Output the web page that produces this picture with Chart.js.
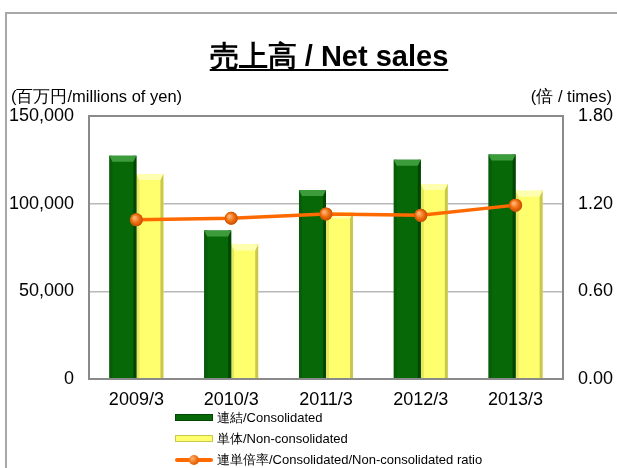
<!DOCTYPE html>
<html><head><meta charset="utf-8">
<script src="https://cdn.jsdelivr.net/npm/chart.js@4/dist/chart.umd.min.js"></script>
<style>
html,body{margin:0;padding:0;background:#fff;}
#wrap{position:relative;width:617px;height:468px;overflow:hidden;background:#fff;font-family:"Liberation Sans",sans-serif;}
#frame{position:absolute;left:5px;top:12px;width:640px;height:480px;border-left:2px solid #a8a8a8;border-top:2px solid #a8a8a8;}
#c{position:absolute;left:0;top:0;}
#title{position:absolute;left:0;width:658px;top:37px;text-align:center;font-size:29px;font-weight:bold;text-decoration:underline;text-underline-offset:3px;text-decoration-thickness:2px;color:#000;}
.unit{position:absolute;top:86px;font-size:16.5px;color:#000;}
#legend{position:absolute;left:175px;top:407px;font-size:13px;color:#000;}
.li{height:21px;display:flex;align-items:center;}
.sw{width:38px;height:18px;margin-right:4px;position:relative;}
</style></head>
<body><div id="wrap">
<div id="frame"></div>
<canvas id="c" width="617" height="468"></canvas>
<div id="title">売上高 / Net sales</div>
<div class="unit" style="left:11px;">(百万円/millions of yen)</div>
<div class="unit" style="right:5px;">(倍 / times)</div>
<div id="legend"></div>
</div>
<script>
const categories = ["2009/3","2010/3","2011/3","2012/3","2013/3"];
const consolidated = [127300, 84700, 107800, 125000, 128000];
const nonConsolidated = [116900, 76700, 95000, 111200, 107400];
const ratio = [1.09, 1.10, 1.13, 1.12, 1.19];
const leftTicks = [0, 50000, 100000, 150000];
const rightTicks = [0, 0.6, 1.2, 1.8];
const seriesLabels = ["連結/Consolidated","単体/Non-consolidated","連単倍率/Consolidated/Non-consolidated ratio"];

const tickFont = {family:'"Liberation Sans",sans-serif', size:18};

const bevelPlugin = {
  id:'bevel',
  afterDatasetDraw(chart, args){
    const ds = chart.data.datasets[args.index];
    if (ds.type !== 'bar') return;
    const ctx = chart.ctx;
    const st = ds.bevel;
    args.meta.data.forEach(el=>{
      const w = el.width, l = el.x - w/2, r = el.x + w/2, t = el.y, b = el.base;
      const bh = 6, side = 3;
      ctx.save();
      ctx.fillStyle = st.left; ctx.fillRect(l, t, side, b-t);
      ctx.fillStyle = st.right; ctx.fillRect(r-side, t, side, b-t);
      ctx.beginPath(); ctx.moveTo(l,t); ctx.lineTo(r,t); ctx.lineTo(r-side,t+bh); ctx.lineTo(l+side,t+bh); ctx.closePath();
      ctx.fillStyle = st.top; ctx.fill();
      ctx.restore();
    });
  }
};
const framePlugin = {
  id:'frameBox',
  afterDraw(chart){
    const a = chart.chartArea, ctx = chart.ctx;
    ctx.save(); ctx.strokeStyle = '#8a8a8a'; ctx.lineWidth = 2;
    ctx.strokeRect(a.left, a.top, a.right-a.left, a.bottom-a.top);
    ctx.restore();
  }
};
const pointPlugin = {
  id:'sphere',
  afterDatasetsDraw(chart){
    const ctx = chart.ctx;
    chart.data.datasets.forEach((ds,i)=>{
      if (ds.type !== 'line') return;
      chart.getDatasetMeta(i).data.forEach(p=>{
        const g = ctx.createRadialGradient(p.x-2,p.y-2,1,p.x,p.y,7);
        g.addColorStop(0,'#ffb070'); g.addColorStop(0.5,'#f07010'); g.addColorStop(1,'#c04800');
        ctx.save(); ctx.beginPath(); ctx.arc(p.x,p.y,6.5,0,Math.PI*2); ctx.fillStyle=g; ctx.fill(); ctx.restore();
      });
    });
  }
};

const chart = new Chart(document.getElementById('c'), {
  data: {
    labels: categories,
    datasets: [
      {type:'line', label: seriesLabels[2], data: ratio, yAxisID:'y1', order:0,
       borderColor:'#ff6a00', borderWidth:3.5, pointRadius:6.5, pointBackgroundColor:'#f07010', pointBorderWidth:0, tension:0},
      {type:'bar', label: seriesLabels[0], data: consolidated, yAxisID:'y', order:1,
       backgroundColor:'#066806', borderWidth:0,
       bevel:{top:'#3c9c3c', left:'#0a5a0a', right:'#034503'}},
      {type:'bar', label: seriesLabels[1], data: nonConsolidated, yAxisID:'y', order:2,
       backgroundColor:'#ffff6e', borderWidth:0,
       bevel:{top:'#ffffb0', left:'#e8e860', right:'#c8c850'}}
    ]
  },
  options: {
    responsive:false, animation:false,
    layout:{padding:{top:116, left:0, right:0, bottom:0}},
    datasets:{bar:{categoryPercentage:0.57, barPercentage:1.0, grouped:true}},
    plugins:{legend:{display:false}, title:{display:false}, tooltip:{enabled:false}},
    scales:{
      x:{ grid:{display:false, drawTicks:false}, border:{display:false},
          ticks:{color:'#000', font:tickFont, padding:10, maxRotation:0},
          afterFit(s){ s.height = 89; } },
      y:{ position:'left', min:0, max:150000,
          afterBuildTicks(s){ s.ticks = leftTicks.map(v=>({value:v})); },
          grid:{color:'#b8b8b8', lineWidth:1.5, drawTicks:false}, border:{display:false},
          ticks:{color:'#000', font:tickFont, padding:15, callback:v=>v.toLocaleString('en-US')},
          afterFit(s){ s.width = 89; } },
      y1:{ position:'right', min:0, max:1.8,
          afterBuildTicks(s){ s.ticks = rightTicks.map(v=>({value:v})); },
          grid:{display:false, drawTicks:false}, border:{display:false},
          ticks:{color:'#000', font:tickFont, padding:15, callback:v=>v.toFixed(2)},
          afterFit(s){ s.width = 54; } }
    }
  },
  plugins:[bevelPlugin, framePlugin, pointPlugin]
});

const legend = document.getElementById('legend');
[1,2,0].forEach(i=>{
  const ds = chart.data.datasets[i];
  const row = document.createElement('div'); row.className='li';
  const sw = document.createElement('div'); sw.className='sw';
  if (ds.type==='bar'){
    const b = document.createElement('div');
    b.style.cssText = 'position:absolute;left:0;top:5px;width:36px;height:5px;border:1px solid '+ds.bevel.right+';background:'+ds.backgroundColor+';';
    sw.appendChild(b);
  } else {
    const l = document.createElement('div');
    l.style.cssText = 'position:absolute;left:0;top:7px;width:38px;height:4px;border-radius:2px;background:'+ds.borderColor+';';
    const d = document.createElement('div');
    d.style.cssText = 'position:absolute;left:14px;top:4px;width:10px;height:10px;border-radius:50%;background:radial-gradient(circle at 35% 35%,#ffb070,#f07010 50%,#c04800);';
    sw.appendChild(l); sw.appendChild(d);
  }
  const t = document.createElement('span'); t.textContent = ds.label;
  row.appendChild(sw); row.appendChild(t); legend.appendChild(row);
});
</script>
</body></html>
